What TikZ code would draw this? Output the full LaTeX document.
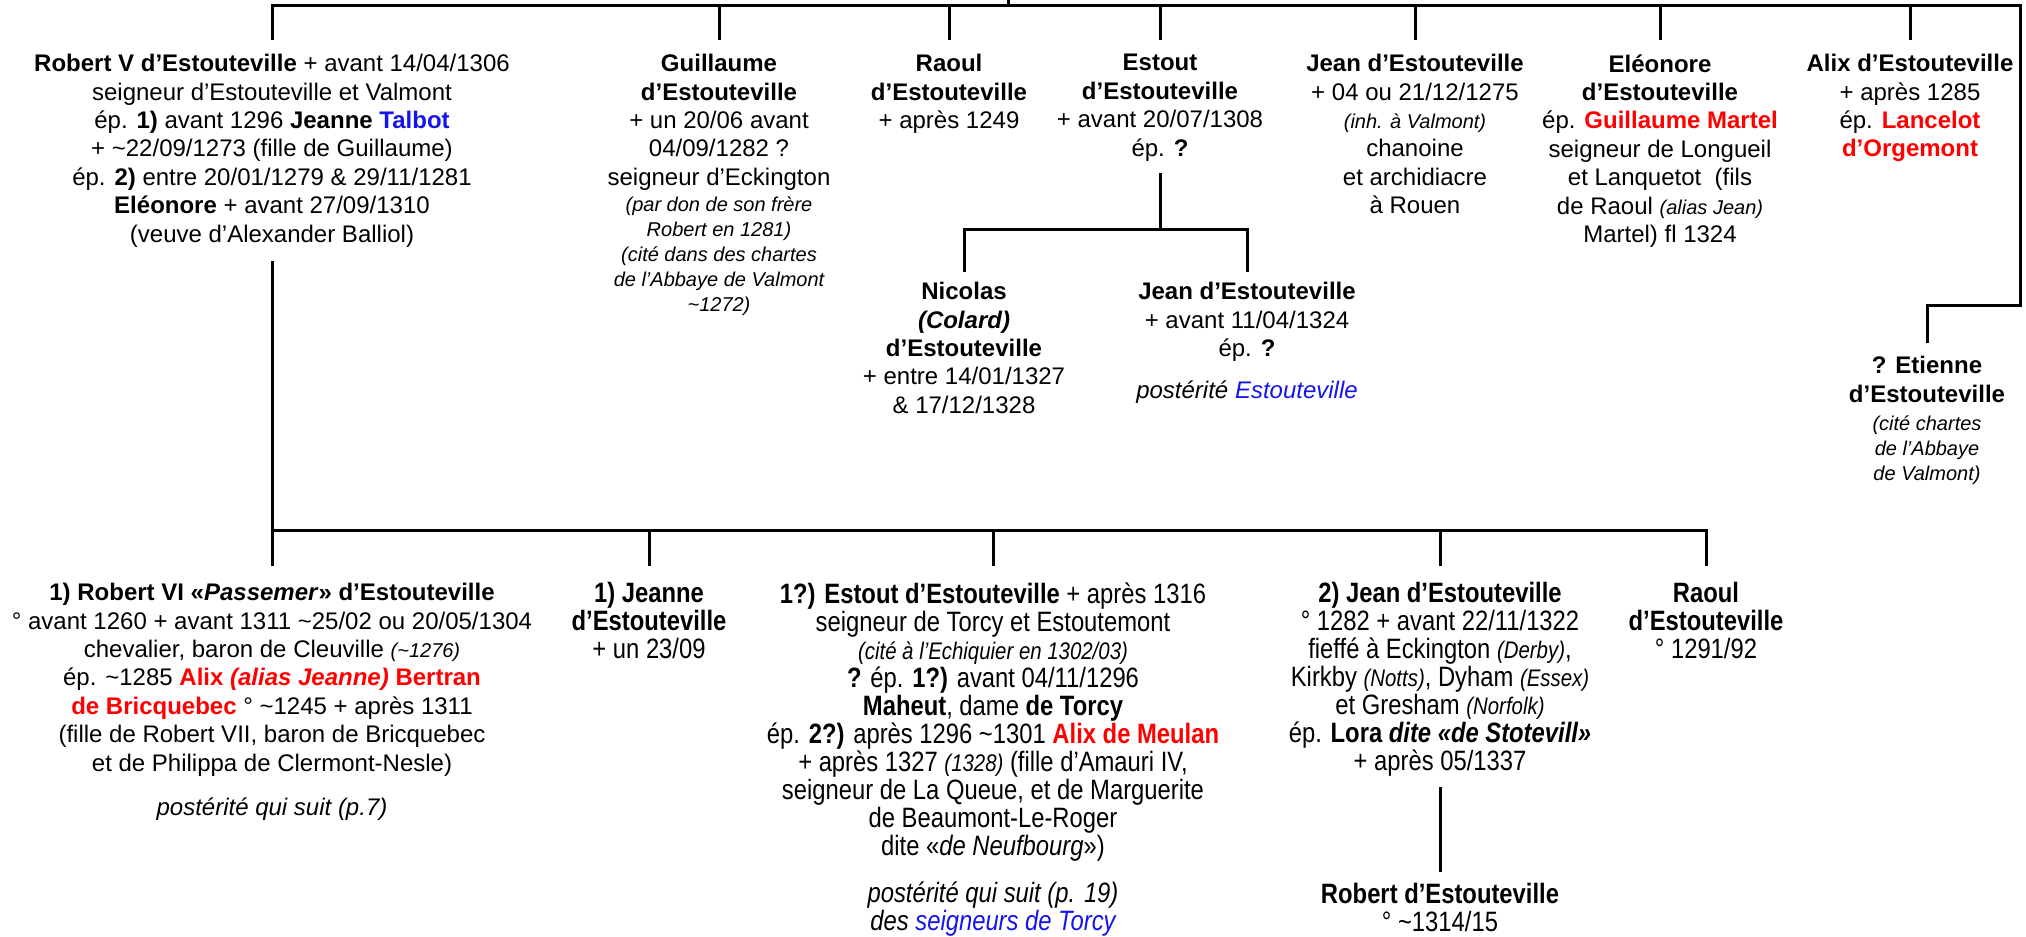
\documentclass[tikz,border=0pt]{standalone}
\usepackage{fontspec}
\setmainfont{Liberation Sans}
\newfontfamily\narrowsf[FakeStretch=0.85]{Liberation Sans}
\definecolor{spred}{RGB}{255,0,0}
\definecolor{lnkblue}{RGB}{20,20,235}
\newcommand{\apx}{\textasciitilde}
\newcommand{\smit}[1]{{\fontsize{10}{12}\selectfont\itshape #1}}
\newcommand{\smitn}[1]{{\fontsize{12}{12}\selectfont\itshape #1}}
\newcommand{\narrowtext}{\narrowsf\fontsize{14}{14}\selectfont\lineskiplimit=-4pt\relax}

\begin{document}
\begin{tikzpicture}[x=0.5pt, y=-0.5pt,
  person/.style={align=center, inner sep=0pt, anchor=north,
                 font=\fontsize{12}{14.2}\selectfont},
  nperson/.style={person, font=\narrowtext},
  link/.style={line width=1.5pt}
]
\path[use as bounding box] (0,0) rectangle (2026,937);

% first generation
\node[person] (RV) at (272,54) {\textbf{Robert V d’Estouteville} + avant 14/04/1306\\
  seigneur d’Estouteville et Valmont\\
  ép. \textbf{1)} avant 1296 \textbf{Jeanne \textcolor{lnkblue}{Talbot}}\\
  + \apx22/09/1273 (fille de Guillaume)\\
  ép. \textbf{2)} entre 20/01/1279 \& 29/11/1281\\
  \textbf{Eléonore} + avant 27/09/1310\\
  (veuve d’Alexander Balliol)};
\node[person] (GU) at (719,54) {\textbf{Guillaume}\\ \textbf{d’Estouteville}\\
  + un 20/06 avant\\ 04/09/1282 ?\\ seigneur d’Eckington\\[-1.2pt]
  \smit{(par don de son frère}\\[-1.7pt] \smit{Robert en 1281)}\\[-1.7pt]
  \smit{(cité dans des chartes}\\[-1.7pt] \smit{de l’Abbaye de Valmont}\\[-1.7pt]
  \smit{\apx1272)}};
\node[person] (RA) at (949,54) {\textbf{Raoul}\\ \textbf{d’Estouteville}\\ + après 1249};
\node[person] (ES) at (1160,54) {\textbf{Estout}\\ \textbf{d’Estouteville}\\
  + avant 20/07/1308\\ ép. \textbf{?}};
\node[person] (JE) at (1415,54) {\textbf{Jean d’Estouteville}\\ + 04 ou 21/12/1275\\
  \smit{(inh. à Valmont)}\\ chanoine\\ et archidiacre\\ à Rouen};
\node[person] (EL) at (1660,54) {\textbf{Eléonore}\\ \textbf{d’Estouteville}\\
  ép. \textbf{\textcolor{spred}{Guillaume Martel}}\\ seigneur de Longueil\\
  et Lanquetot \ (fils\\ de Raoul \smit{(alias Jean)}\\ Martel) fl 1324};
\node[person] (AL) at (1910,54) {\textbf{Alix d’Estouteville}\\ + après 1285\\
  ép. \textbf{\textcolor{spred}{Lancelot}}\\ \textbf{\textcolor{spred}{d’Orgemont}}};

% children of Estout
\node[person] (NI) at (964,282) {\textbf{Nicolas}\\ \textbf{\textit{(Colard)}}\\
  \textbf{d’Estouteville}\\ + entre 14/01/1327\\ \& 17/12/1328};
\node[person] (JS) at (1247,282) {\textbf{Jean d’Estouteville}\\ + avant 11/04/1324\\
  ép. \textbf{?}\\[6.8pt] \textit{postérité \textcolor{lnkblue}{Estouteville}}};
\node[person] (ET) at (1927,356) {\textbf{? Etienne}\\ \textbf{d’Estouteville}\\
  \smit{(cité chartes}\\[-1.7pt] \smit{de l’Abbaye}\\[-1.7pt] \smit{de Valmont)}};

% children of Robert V
\node[person] (R6) at (272,583) {\textbf{1) Robert VI «\textit{Passemer}» d’Estouteville}\\
  ° avant 1260 + avant 1311 \apx25/02 ou 20/05/1304\\
  chevalier, baron de Cleuville \smit{(\apx1276)}\\
  ép. \apx1285 \textcolor{spred}{\textbf{Alix \textit{(alias Jeanne)} Bertran}}\\
  \textcolor{spred}{\textbf{de Bricquebec}} ° \apx1245 + après 1311\\
  (fille de Robert VII, baron de Bricquebec\\
  et de Philippa de Clermont-Nesle)\\[7.8pt]
  \textit{postérité qui suit (p.7)}};
\node[nperson] (JN) at (649,582) {\textbf{1) Jeanne}\\ \textbf{d’Estouteville}\\ + un 23/09};
\node[nperson] (E2) at (993,582) {\textbf{1?) Estout d’Estouteville} + après 1316\\
  seigneur de Torcy et Estoutemont\\
  \smitn{(cité à l’Echiquier en 1302/03)}\\
  \textbf{?} ép. \textbf{1?)} avant 04/11/1296\\
  \textbf{Maheut}, dame \textbf{de Torcy}\\
  ép. \textbf{2?)} après 1296 \apx1301 \textcolor{spred}{\textbf{Alix de Meulan}}\\
  + après 1327 \smitn{(1328)} (fille d’Amauri IV,\\
  seigneur de La Queue, et de Marguerite\\
  de Beaumont-Le-Roger\\
  dite «\textit{de Neufbourg}»)\\[9.6pt]
  \textit{postérité qui suit (p. 19)}\\
  \textit{des \textcolor{lnkblue}{seigneurs de Torcy}}};
\node[nperson] (J2) at (1440,582) {\textbf{2) Jean d’Estouteville}\\
  ° 1282 + avant 22/11/1322\\
  fieffé à Eckington \smitn{(Derby)},\\
  Kirkby \smitn{(Notts)}, Dyham \smitn{(Essex)}\\
  et Gresham \smitn{(Norfolk)}\\
  ép. \textbf{Lora \textit{dite «de Stotevill»}}\\
  + après 05/1337};
\node[nperson] (R2) at (1706,582) {\textbf{Raoul}\\ \textbf{d’Estouteville}\\ ° 1291/92};
\node[nperson] (RJ) at (1440,883) {\textbf{Robert d’Estouteville}\\ ° \apx1314/15};

% tree lines
\coordinate (tb) at (0,5);
\coordinate (rc) at (2020,5);
\coordinate (up) at (1008,0);
\coordinate (etb) at (0,305);
\coordinate (eb) at (0,229);
\coordinate (bb) at (0,530);

\draw[link] ([yshift=7pt]RV.north) -- (RV.north |- tb) -- (rc) -- (rc |- etb)
  -- (ET.north |- etb) -- ([yshift=6.5pt]ET.north);
\draw[link] (up) -- (up |- tb);
\foreach \n in {GU,RA,ES,JE,EL,AL}
  \draw[link] (\n.north |- tb) -- ([yshift=7pt]\n.north);

\draw[link] ([yshift=-5.7pt]ES.south) -- (ES.south |- eb);
\draw[link] ([yshift=5pt]NI.north) -- (NI.north |- eb) -- (JS.north |- eb)
  -- ([yshift=5pt]JS.north);

\draw[link] ([yshift=-6.7pt]RV.south) -- (RV.south |- bb);
\draw[link] ([yshift=8.5pt]R6.north) -- (R6.north |- bb) -- (R2.north |- bb)
  -- ([yshift=8pt]R2.north);
\foreach \n in {JN,E2,J2}
  \draw[link] (\n.north |- bb) -- ([yshift=8pt]\n.north);
\draw[link] ([yshift=-5pt]J2.south) -- ([yshift=5.5pt]RJ.north);
\end{tikzpicture}
\end{document}
